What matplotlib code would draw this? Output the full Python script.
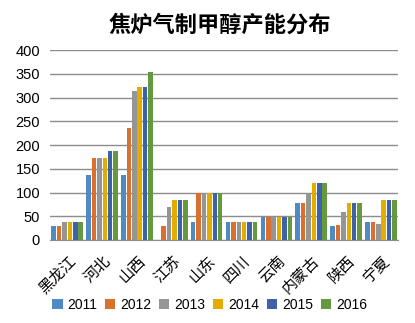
import numpy as np
import matplotlib
matplotlib.use('Agg')
import matplotlib.pyplot as plt

plt.rcParams['font.family'] = ['Noto Sans CJK SC', 'DejaVu Sans']

# Data
provinces = ['黑龙江', '河北', '山西', '江苏', '山东', '四川', '云南', '内蒙古', '陕西', '宁夏']
years = ['2011', '2012', '2013', '2014', '2015', '2016']
v2011 = [30, 137, 137, 0, 38, 38, 48, 78, 30, 38]
v2012 = [30, 173, 236, 30, 100, 38, 48, 78, 32, 38]
v2013 = [38, 173, 314, 70, 100, 38, 48, 100, 59, 34]
v2014 = [38, 173, 322, 84, 100, 38, 48, 120, 78, 84]
v2015 = [38, 187, 322, 84, 100, 38, 48, 120, 78, 84]
v2016 = [38, 187, 354, 84, 100, 38, 48, 120, 78, 84]
series = [v2011, v2012, v2013, v2014, v2015, v2016]
colors = ['#4F8AC3', '#D9702F', '#959595', '#E3AC00', '#3E62A8', '#64993F']

fig = plt.figure(figsize=(4.15, 3.23), dpi=100)
ax = fig.add_axes([0.12, 0.257, 0.84, 0.588])

x = np.arange(len(provinces))
step = 0.155
width = 0.13
for i, (vals, c, yr) in enumerate(zip(series, colors, years)):
    ax.bar(x + (i - 2.5) * step, vals, width=width, color=c, label=yr, zorder=3)

ax.set_xlim(-0.5, len(provinces) - 0.5)
ax.set_ylim(0, 400)
ax.set_yticks(range(0, 401, 50))
ax.yaxis.grid(True, color='#8c8c8c', linewidth=1.0, zorder=0)
for s in ['top', 'right', 'left']:
    ax.spines[s].set_visible(False)
ax.spines['bottom'].set_color('#8c8c8c')
ax.tick_params(axis='both', length=0)
ax.tick_params(axis='y', pad=7)
ax.tick_params(axis='x', pad=9)
for lab in ax.get_yticklabels():
    lab.set_family('Liberation Sans')
    lab.set_fontsize(10.5)
ax.set_xticks(x)
ax.set_xticklabels(provinces, rotation=45, ha='right', rotation_mode='anchor', fontsize=11)

fig.text(0.53, 0.922, '焦炉气制甲醇产能分布', ha='center', va='center',
         fontsize=16, fontweight='bold')

fig.legend(loc='lower center', bbox_to_anchor=(0.505, -0.005), ncol=6, frameon=False,
           prop={'family': 'Liberation Sans', 'size': 10}, handlelength=0.75,
           handleheight=0.75, columnspacing=0.55, handletextpad=0.35)

fig.savefig('out.png', dpi=100)
